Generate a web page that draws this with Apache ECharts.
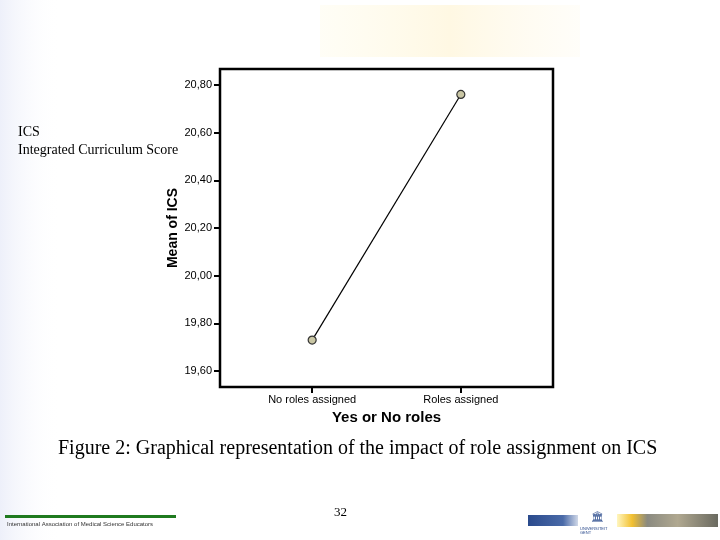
<!DOCTYPE html>
<html>
<head>
<meta charset="utf-8">
<script src="https://cdn.jsdelivr.net/npm/echarts@6/dist/echarts.min.js"></script>
<style>
  html, body { margin: 0; padding: 0; background: #fff; }
  #chart { width: 720px; height: 540px; }
</style>
</head>
<body>
<div id="chart"></div>
<script>
// data
const groups = ['No roles assigned', 'Roles assigned']
const groupPos = [0, 1]
const meanICS = [19.73, 20.76]
const yTicks = [19.6, 19.8, 20.0, 20.2, 20.4, 20.6, 20.8]

const myChart = echarts.init(document.getElementById('chart'))

const fmtComma = v => v.toFixed(2).replace('.', ',')

const option = {
  backgroundColor: '#ffffff',
  animation: false,
  grid: {
    left: 220,
    top: 69,
    right: 167,
    bottom: 153,
    show: true,
    borderColor: '#000',
    borderWidth: 2.5,
    backgroundColor: 'transparent'
  },
  xAxis: {
    type: 'value',
    min: -0.62,
    max: 1.62,
    name: 'Yes or No roles',
    nameLocation: 'middle',
    nameGap: 23,
    nameTextStyle: { fontFamily: 'Liberation Sans', fontWeight: 'bold', fontSize: 15, color: '#000' },
    splitLine: { show: false },
    axisLine: { show: false, onZero: false },
    axisTick: {
      show: true,
      length: 6,
      lineStyle: { color: '#000', width: 2 },
      customValues: groupPos
    },
    axisLabel: {
      color: '#000',
      fontFamily: 'Liberation Sans',
      fontSize: 11,
      margin: 7,
      customValues: groupPos,
      formatter: v => groups[Math.round(v)]
    }
  },
  yAxis: {
    type: 'value',
    min: 19.5333,
    max: 20.8667,
    name: 'Mean of ICS',
    nameLocation: 'middle',
    nameGap: 38,
    nameTextStyle: { fontFamily: 'Liberation Sans', fontWeight: 'bold', fontSize: 14, color: '#000' },
    splitLine: { show: false },
    axisLine: { show: false, onZero: false },
    axisTick: {
      show: true,
      length: 6,
      lineStyle: { color: '#000', width: 2 },
      customValues: yTicks
    },
    axisLabel: {
      color: '#000',
      fontFamily: 'Liberation Sans',
      fontSize: 11,
      margin: 8,
      customValues: yTicks,
      formatter: v => fmtComma(v)
    }
  },
  series: [{
    type: 'line',
    data: groupPos.map((p, i) => [p, meanICS[i]]),
    symbol: 'circle',
    symbolSize: 8,
    lineStyle: { color: '#000', width: 1.2 },
    itemStyle: { color: '#c9c6a4', borderColor: '#333', borderWidth: 1.2 }
  }],
  graphic: [
    // faint slide decorations
    { type: 'rect', shape: { x: 0, y: 0, width: 60, height: 540 }, silent: true, z: -10,
      style: { fill: new echarts.graphic.LinearGradient(0, 0, 1, 0, [{ offset: 0, color: 'rgba(220,225,245,0.5)' }, { offset: 1, color: 'rgba(255,255,255,0)' }]) } },
    { type: 'rect', shape: { x: 320, y: 5, width: 260, height: 52 }, silent: true, z: -10,
      style: { fill: new echarts.graphic.LinearGradient(0, 0, 1, 0, [{ offset: 0, color: 'rgba(255,250,225,0.3)' }, { offset: 0.5, color: 'rgba(255,245,215,0.7)' }, { offset: 1, color: 'rgba(255,250,235,0.3)' }]) } },
    // side text
    { type: 'text', left: 18, top: 125, style: { text: 'ICS', font: '14px "Liberation Serif"', fill: '#000' } },
    { type: 'text', left: 18, top: 143, style: { text: 'Integrated Curriculum Score', font: '14px "Liberation Serif"', fill: '#000' } },
    // caption
    { type: 'text', left: 58, top: 439, style: { text: 'Figure 2: Graphical representation of the impact of role assignment on ICS', font: '20px "Liberation Serif"', fill: '#000' } },
    { type: 'text', left: 334, top: 506, style: { text: '32', font: '13px "Liberation Serif"', fill: '#000' } },
    // footer left
    { type: 'rect', shape: { x: 5, y: 515, width: 171, height: 3 }, style: { fill: '#1f7a1f' } },
    { type: 'text', left: 7, top: 521, style: { text: 'International Association of Medical Science Educators', font: '6px "Liberation Sans"', fill: '#333' } },
    // footer right logos
    { type: 'rect', shape: { x: 528, y: 515, width: 50, height: 11 },
      style: { fill: new echarts.graphic.LinearGradient(0, 0, 1, 0, [{ offset: 0, color: '#2a4a8c' }, { offset: 0.7, color: '#4a6aa8' }, { offset: 1, color: '#d0d8e8' }]) } },
    { type: 'text', left: 591, top: 512, style: { text: '\u{1F3DB}', font: '10px "DejaVu Sans"', fill: '#2a4a8c' } },
    { type: 'text', left: 580, top: 527, style: { text: 'UNIVERSITEIT\nGENT', font: '4px "Liberation Sans"', fill: '#2a4a8c', align: 'left' } },
    { type: 'rect', shape: { x: 617, y: 514, width: 101, height: 13 },
      style: { fill: new echarts.graphic.LinearGradient(0, 0, 1, 0, [{ offset: 0, color: '#fff6c0' }, { offset: 0.15, color: '#f2c030' }, { offset: 0.3, color: '#8a8a80' }, { offset: 0.6, color: '#b0a890' }, { offset: 1, color: '#6a6a60' }]) } }
  ]
}

myChart.setOption(option, true)
</script>
</body>
</html>
